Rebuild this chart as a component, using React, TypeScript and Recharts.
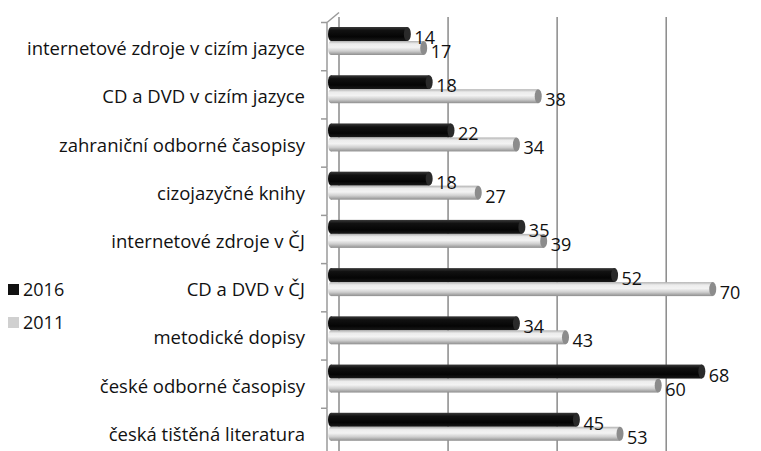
import { BarChart, Bar, XAxis, YAxis, CartesianGrid, LabelList } from 'recharts'

const categories = [
  'internetové zdroje v cizím jazyce',
  'CD a DVD v cizím jazyce',
  'zahraniční odborné časopisy',
  'cizojazyčné knihy',
  'internetové zdroje v ČJ',
  'CD a DVD v ČJ',
  'metodické dopisy',
  'české odborné časopisy',
  'česká tištěná literatura',
]
const values2016 = [14, 18, 22, 18, 35, 52, 34, 68, 45]
const values2011 = [17, 38, 34, 27, 39, 70, 43, 60, 53]
const seriesNames = ['2016', '2011']
const gridTicks = [0, 20, 40, 60]
const X_MAX = 75

const data = categories.map((name, i) => ({
  name,
  v2016: values2016[i],
  v2011: values2011[i],
}))

const W = 761
const H = 451
const M_TOP = 17
const M_BOTTOM = 0
const Y_AXIS_W = 331
const FONT = '"Open Sans", sans-serif'
const BAND = (H - M_TOP - M_BOTTOM) / categories.length
// 3D depth shift of the back wall / axis labels
const DEPTH_X = 8
const FRONT_SHIFT = 5.5

function CategoryTick(props: any) {
  const { x, y, payload, index } = props
  const axisX = Y_AXIS_W - 4
  const top = y - BAND / 2 + FRONT_SHIFT
  const bottom = top + BAND
  return (
    <g>
      <text x={x} y={y + FRONT_SHIFT + 1} textAnchor="end" dominantBaseline="central" fontSize={18.5} fontFamily={FONT} fill="#111">
        {payload.value}
      </text>
      <line x1={axisX} y1={top} x2={axisX} y2={bottom} stroke="#9a9a9a" strokeWidth={1.5} />
      <line x1={axisX - 6} y1={top} x2={axisX} y2={top} stroke="#9a9a9a" strokeWidth={1.5} />
      {index === 0 && (
        <line x1={axisX} y1={top} x2={axisX + DEPTH_X + 4} y2={top - 10} stroke="#9a9a9a" strokeWidth={1.5} />
      )}
      {index === categories.length - 1 && (
        <line x1={axisX - 6} y1={bottom} x2={axisX} y2={bottom} stroke="#9a9a9a" strokeWidth={1.5} />
      )}
    </g>
  )
}

function Cylinder(props: any) {
  const { x, y, width, height, gradId, capFill } = props
  if (width <= 0) return null
  const r = height / 2
  return (
    <g>
      <rect x={x} y={y} width={width} height={height} fill={`url(#${gradId})`} />
      <ellipse cx={x} cy={y + r} rx={3} ry={r} fill={`url(#${gradId})`} />
      <ellipse cx={x + width} cy={y + r} rx={3.5} ry={r} fill={capFill} />
    </g>
  )
}

function ValueLabel(props: any) {
  const { x, y, width, height, value } = props
  return (
    <text x={x + width + 7} y={y + height / 2 + 3} dominantBaseline="central" fontSize={18} fontFamily={FONT} fill="#111">
      {value}
    </text>
  )
}

export default function App() {
  return (
    <div style={{ position: 'absolute', left: 0, top: 0, width: W, height: H, background: '#fff', overflow: 'hidden' }}>
      <BarChart
        width={W}
        height={H}
        data={data}
        layout="vertical"
        margin={{ top: M_TOP, right: 21, bottom: M_BOTTOM, left: 0 }}
        barSize={14}
        barGap={0}
      >
        <defs>
          <linearGradient id="gBlack" x1="0" y1="0" x2="0" y2="1">
            <stop offset="0" stopColor="#3a3a3a" />
            <stop offset="0.25" stopColor="#111" />
            <stop offset="0.7" stopColor="#050505" />
            <stop offset="1" stopColor="#1a1a1a" />
          </linearGradient>
          <linearGradient id="gGray" x1="0" y1="0" x2="0" y2="1">
            <stop offset="0" stopColor="#b0b0b0" />
            <stop offset="0.2" stopColor="#ececec" />
            <stop offset="0.45" stopColor="#f3f3f3" />
            <stop offset="0.72" stopColor="#cecece" />
            <stop offset="1" stopColor="#8e8e8e" />
          </linearGradient>
        </defs>
        <CartesianGrid
          horizontal={false}
          vertical
          stroke="#8a8a8a"
          strokeWidth={1.5}
          verticalCoordinatesGenerator={({ offset }: any) =>
            gridTicks.map((t) => offset.left + (t / X_MAX) * offset.width + DEPTH_X)
          }
        />
        <XAxis type="number" domain={[0, X_MAX]} hide />
        <YAxis
          type="category"
          dataKey="name"
          width={Y_AXIS_W}
          axisLine={false}
          tickLine={false}
          tickSize={0}
          tickMargin={26}
          interval={0}
          tick={<CategoryTick />}
        />
        <Bar
          dataKey="v2016"
          name={seriesNames[0]}
          fill="#111"
          isAnimationActive={false}
          shape={(p: any) => <Cylinder {...p} gradId="gBlack" capFill="#2a2a2a" />}
        >
          <LabelList dataKey="v2016" content={<ValueLabel />} />
        </Bar>
        <Bar
          dataKey="v2011"
          name={seriesNames[1]}
          fill="#d4d4d4"
          isAnimationActive={false}
          shape={(p: any) => <Cylinder {...p} gradId="gGray" capFill="#8c8c8c" />}
        >
          <LabelList dataKey="v2011" content={<ValueLabel />} />
        </Bar>
      </BarChart>
      <div style={{ position: 'absolute', left: 8, top: 278, fontFamily: FONT, fontSize: 18, color: '#111' }}>
        {seriesNames.map((s, i) => (
          <div key={s} style={{ display: 'flex', alignItems: 'center', height: 22, marginBottom: 11 }}>
            <span style={{ display: 'inline-block', width: 11, height: 11, background: i === 0 ? '#111' : '#d0d0d0', marginRight: 4 }} />
            {s}
          </div>
        ))}
      </div>
    </div>
  )
}
